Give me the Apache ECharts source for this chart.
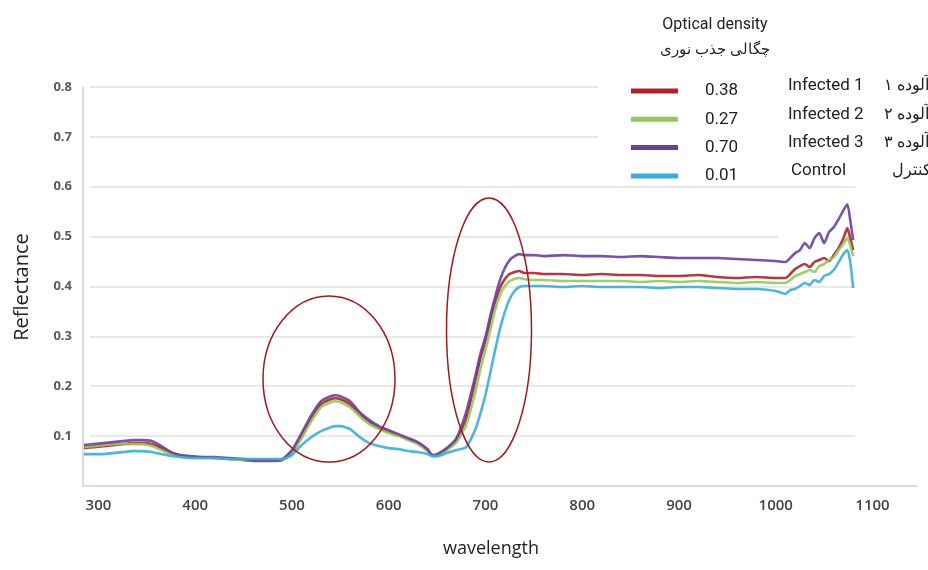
<!DOCTYPE html>
<html>
<head>
<meta charset="utf-8">
<script src="https://cdn.jsdelivr.net/npm/echarts@6/dist/echarts.min.js"></script>
<style>
html,body{margin:0;padding:0;background:#fff;}
#chart{width:928px;height:570px;}
</style>
</head>
<body>
<div id="chart"></div>
<script>
// ---- data ----
const wavelengths = [285,295,305,315,325,335,345,355,365,375,
  385,395,405,420,435,450,465,480,490,500,
  510,520,530,540,545,550,560,570,580,590,
  600,610,620,630,640,645,650,660,670,680,
  690,695,700,705,710,715,720,725,730,735,
  740,750,760,780,800,820,840,860,880,900,
  920,940,960,980,1000,1010,1015,1020,1025,1030,
  1035,1040,1045,1050,1055,1060,1065,1070,1074,1077,
  1080];

const infected1 = [0.076,0.078,0.080,0.082,0.084,0.086,0.086,0.084,0.076,0.066,
  0.060,0.058,0.058,0.056,0.054,0.052,0.050,0.050,0.052,0.068,
  0.100,0.136,0.164,0.174,0.176,0.174,0.164,0.144,0.128,0.116,
  0.108,0.102,0.094,0.086,0.072,0.062,0.062,0.074,0.092,0.136,
  0.216,0.258,0.291,0.333,0.369,0.397,0.415,0.425,0.429,0.431,
  0.427,0.427,0.425,0.425,0.423,0.425,0.423,0.423,0.421,0.421,
  0.423,0.419,0.417,0.419,0.417,0.417,0.425,0.435,0.441,0.445,
  0.439,0.449,0.453,0.457,0.451,0.463,0.477,0.497,0.517,0.497,
  0.473];

const infected2 = [0.078,0.080,0.082,0.084,0.084,0.084,0.084,0.080,0.072,0.064,
  0.060,0.058,0.056,0.056,0.054,0.052,0.052,0.052,0.052,0.066,
  0.096,0.130,0.158,0.168,0.170,0.168,0.158,0.140,0.124,0.114,
  0.106,0.100,0.092,0.084,0.070,0.060,0.060,0.072,0.088,0.122,
  0.192,0.236,0.273,0.313,0.353,0.383,0.401,0.411,0.415,0.417,
  0.415,0.413,0.413,0.411,0.411,0.411,0.411,0.409,0.411,0.409,
  0.411,0.409,0.407,0.409,0.407,0.407,0.413,0.421,0.425,0.429,
  0.433,0.429,0.441,0.445,0.453,0.459,0.473,0.485,0.497,0.483,
  0.461];

const infected3 = [0.082,0.084,0.086,0.088,0.090,0.092,0.092,0.090,0.080,0.068,
  0.062,0.060,0.058,0.058,0.056,0.054,0.052,0.052,0.054,0.072,
  0.106,0.142,0.170,0.180,0.182,0.180,0.170,0.148,0.132,0.120,
  0.112,0.104,0.096,0.088,0.074,0.062,0.064,0.076,0.096,0.148,
  0.225,0.267,0.299,0.341,0.379,0.413,0.437,0.453,0.461,0.465,
  0.463,0.463,0.461,0.463,0.461,0.461,0.459,0.461,0.459,0.457,
  0.457,0.457,0.455,0.453,0.451,0.449,0.457,0.467,0.473,0.487,
  0.477,0.497,0.507,0.487,0.509,0.519,0.535,0.553,0.565,0.533,
  0.493];

const control = [0.064,0.064,0.064,0.066,0.068,0.070,0.070,0.068,0.064,0.060,
  0.058,0.056,0.056,0.056,0.054,0.054,0.054,0.054,0.054,0.062,
  0.082,0.098,0.110,0.118,0.120,0.120,0.114,0.098,0.086,0.080,
  0.076,0.074,0.070,0.068,0.064,0.060,0.060,0.066,0.072,0.078,
  0.116,0.147,0.183,0.227,0.273,0.315,0.349,0.375,0.391,0.399,
  0.401,0.401,0.401,0.399,0.401,0.399,0.399,0.399,0.397,0.399,
  0.399,0.397,0.395,0.395,0.391,0.385,0.393,0.395,0.401,0.407,
  0.403,0.413,0.409,0.421,0.425,0.433,0.449,0.465,0.473,0.449,
  0.397];

const seriesNames = ['Infected 1', 'Infected 2', 'Infected 3', 'Control'];
const opticalDensity = ['0.38', '0.27', '0.70', '0.01'];
const persianNames = ['آلوده ۱', 'آلوده ۲', 'آلوده ۳', 'کنترل'];
const xTickLabels = [300, 400, 500, 600, 700, 800, 900, 1000, 1100];
const yTickLabels = [0.1, 0.2, 0.3, 0.4, 0.5, 0.6, 0.7, 0.8];
const colors = ['#a8232a', '#95c75c', '#6d3f9c', '#3aaed6'];

// ---- chart ----
const seriesValues = [infected1, infected2, infected3, control];
const chart = echarts.init(document.getElementById('chart'), null, {renderer: 'canvas'});

const rowTop = 86, rowStep = 28.3;
const legendTextFont = 'Roboto, "Liberation Sans", sans-serif';

const graphics = [
  {type: 'rect', z: 1, shape: {x: 598, y: 0, width: 330, height: 176}, style: {fill: '#ffffff'}},
  {type: 'rect', z: 1, shape: {x: 778, y: 215, width: 150, height: 32}, style: {fill: '#ffffff'}},
  {type: 'text', z: 5, x: 715, y: 25, style: {text: 'Optical density', font: '16px ' + legendTextFont, fill: '#222', textAlign: 'center', textVerticalAlign: 'middle'}},
  {type: 'text', z: 5, x: 715, y: 50, style: {text: 'چگالی جذب نوری', font: '15px serif', fill: '#222', textAlign: 'center', textVerticalAlign: 'middle'}},
  {type: 'text', z: 5, x: 22, y: 287, rotation: Math.PI / 2, style: {text: 'Reflectance', font: '20px "Open Sans", sans-serif', fill: '#222', textAlign: 'center', textVerticalAlign: 'middle'}},
  {type: 'text', z: 5, x: 491, y: 549, style: {text: 'wavelength', font: '18px "Open Sans", sans-serif', fill: '#222', textAlign: 'center', textVerticalAlign: 'middle'}},
  {type: 'ellipse', z: 10, shape: {cx: 329, cy: 379, rx: 66, ry: 83}, style: {fill: 'none', stroke: '#9e1b1f', lineWidth: 1.5}},
  {type: 'ellipse', z: 10, shape: {cx: 489, cy: 330, rx: 42.5, ry: 132}, style: {fill: 'none', stroke: '#9e1b1f', lineWidth: 1.5}}
];
seriesNames.forEach(function (n, i) {
  const y = rowTop + i * rowStep;
  graphics.push({type: 'text', z: 5, x: i === 3 ? 791 : 788, y: y, style: {text: n, font: '17px ' + legendTextFont, fill: '#222', textAlign: 'left', textVerticalAlign: 'middle'}});
  graphics.push({type: 'text', z: 5, x: i === 3 ? 892 : 884, y: y, style: {text: persianNames[i], font: '16px serif', fill: '#222', textAlign: 'left', textVerticalAlign: 'middle'}});
});

const option = {
  backgroundColor: '#ffffff',
  animation: false,
  grid: [
    {left: 83, top: 87, width: 834, height: 399},
    {left: 90, top: 87, width: 765, height: 349}
  ],
  xAxis: [
    {
      type: 'value', gridIndex: 0, min: 284, max: 1146, offset: 5,
      axisLine: {show: true, lineStyle: {color: '#cdd2da', width: 1.5}},
      axisTick: {show: false},
      splitLine: {show: false},
      axisLabel: {customValues: xTickLabels, margin: 7, formatter: function (v) { return String(v); }, fontFamily: '"Open Sans", sans-serif', fontSize: 15, fontWeight: 600, color: '#444'}
    },
    {type: 'value', gridIndex: 1, min: 0, max: 1, show: false}
  ],
  yAxis: [
    {
      type: 'value', gridIndex: 0, min: 0, max: 0.8,
      axisLine: {show: true, lineStyle: {color: '#cdd2da', width: 1.5}},
      axisTick: {show: false},
      splitLine: {show: false},
      axisLabel: {customValues: yTickLabels, margin: 11, formatter: function (v) { return v.toFixed(1); }, fontFamily: '"Open Sans", sans-serif', fontSize: 13, fontWeight: 700, color: '#5a5a5a'}
    },
    {
      type: 'value', gridIndex: 1, min: 0.1, max: 0.8, interval: 0.1,
      axisLine: {show: false}, axisTick: {show: false}, axisLabel: {show: false},
      splitLine: {show: true, lineStyle: {color: '#e2e2e2', width: 1.5}}
    }
  ],
  legend: {
    data: seriesNames,
    orient: 'vertical',
    left: 626, top: rowTop - 10,
    icon: 'rect',
    itemWidth: 47, itemHeight: 5, itemGap: 8.3,
    selectedMode: false,
    formatter: function (name) { return opticalDensity[seriesNames.indexOf(name)]; },
    textStyle: {fontFamily: legendTextFont, fontSize: 17, lineHeight: 20, color: '#222', padding: [0, 0, 0, 22]}
  },
  graphic: {elements: graphics},
  series: seriesNames.map(function (n, i) {
    return {
      name: n, type: 'line', xAxisIndex: 0, yAxisIndex: 0,
      data: wavelengths.map(function (w, j) { return [w, seriesValues[i][j]]; }),
      showSymbol: false, symbol: 'none', smooth: 0.2,
      lineStyle: {width: 2.6, color: colors[i], opacity: 0.9},
      itemStyle: {color: colors[i]},
      z: 2
    };
  })
};
chart.setOption(option);
</script>
</body>
</html>
